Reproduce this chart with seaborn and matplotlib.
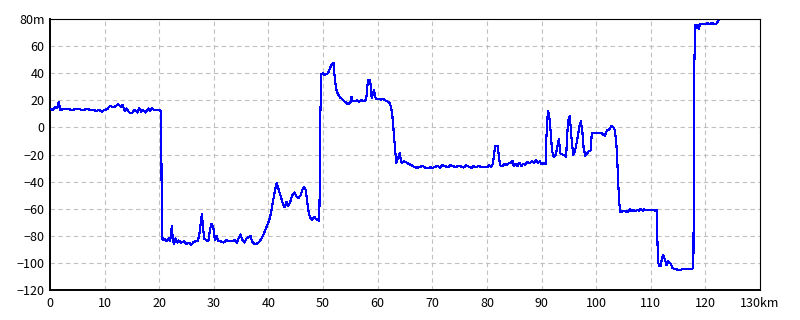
import matplotlib
matplotlib.use("Agg")
import matplotlib.pyplot as plt
import seaborn as sns
import pandas as pd
import numpy as np

# ---- data (distance km, elevation m) ----
km_a = [0, 0.5, 1.0, 1.3, 1.6, 1.9, 2.3, 3, 4, 5, 6, 7, 7.5, 8, 8.5, 9, 9.5, 10, 10.5, 11,
        11.5, 12, 12.5, 13, 13.3, 13.7, 14, 14.5, 15, 15.5, 16, 16.3, 16.7, 17, 17.5, 18,
        18.3, 18.7, 19, 19.5, 20, 20.3, 20.35, 20.45, 20.6]
m_a = [13.5, 13, 15, 14, 18.5, 12.5, 13.5, 13.5, 13, 13.5, 13, 13.5, 12.5, 13, 12, 13, 11.5,
       13, 13.5, 16, 15, 15.5, 17, 15, 16.5, 12, 14, 11, 10.5, 13, 11, 14, 11.5, 13, 11, 14,
       12, 14, 13, 12.5, 13, 12, 10, -55, -83]

km_b = [21.0, 21.4, 21.7, 22.0, 22.2, 22.3, 22.5, 22.7, 23.0, 23.3, 23.6, 24, 24.5, 25, 25.5,
        25.8, 26.2, 26.6, 27.0, 27.3, 27.6, 27.8, 28.0, 28.2, 28.6, 29.0, 29.3, 29.6, 29.9,
        30.2, 30.5, 30.8, 31.2, 31.8, 32.3, 32.8, 33.3, 33.8, 34.2, 34.6, 34.9, 35.2, 35.6,
        36.0, 36.4, 36.7, 37.0, 37.4, 37.8, 38.2, 38.6, 39.0, 39.3, 39.6, 40.0, 40.3, 40.6,
        40.9, 41.2, 41.5, 41.8, 42.1, 42.4, 42.7, 43.0, 43.3, 43.6, 43.9, 44.2, 44.5, 44.8,
        45.1, 45.5, 45.9, 46.2, 46.5, 46.8, 47.1, 47.4, 47.7, 48.0, 48.4, 48.8, 49.1, 49.3,
        49.4, 49.5, 49.7]
m_b = [-82.5, -84, -82, -84, -76, -73, -83, -86, -82, -85, -83.5, -85, -84, -86, -85, -87,
       -85, -84, -84, -80, -70, -64, -72, -82, -83, -84, -75, -71, -74, -83, -80, -84, -84,
       -85, -83, -84, -84, -83, -85, -81, -79, -83, -85, -82, -81, -80, -84, -86, -86, -85,
       -83, -80, -77, -74, -70, -66, -60, -53, -46, -41, -45, -49, -53, -57, -59, -55, -58,
       -56, -52, -49, -48, -51, -52, -50, -46, -44, -46, -55, -64, -67, -68, -66, -68, -68,
       -69, -40, 10, 39.5]

km_c = [50.0, 50.3, 50.6, 50.9, 51.2, 51.5, 51.9, 52.2, 52.5, 52.8, 53.1, 53.5, 53.8, 54.2,
        54.6, 55.0, 55.2, 55.4, 55.8, 56.2, 56.6, 57.0, 57.4, 57.8, 58.0, 58.2, 58.6, 58.8,
        58.9, 59.1, 59.3, 59.6, 59.8, 60.2, 60.6, 61.0, 61.4, 61.8, 62.2, 62.5, 62.7, 62.9,
        63.1, 63.3, 63.4, 63.7, 64.0, 64.2, 64.4, 64.8, 65.3, 65.7]
m_c = [40, 38.5, 39.5, 40, 43, 46, 47.5, 34, 26.5, 24, 22, 21, 19.5, 18.5, 17, 18.5, 22.5,
       19.5, 19.5, 20, 19, 20, 19.5, 20, 24, 35, 35, 28, 21.5, 24, 27.5, 22, 21, 21, 20.5,
       21, 20, 19, 18, 14, 8, -2, -13, -22, -26.5, -23, -19, -23, -26, -25, -26, -27]

km_d = [66.2, 66.8, 67.3, 67.8, 68.3, 68.7, 69.2, 69.6, 70.1, 70.6, 71.0, 71.4, 71.8, 72.3,
        72.8, 73.3, 73.8, 74.3, 74.8, 75.3, 75.8, 76.2, 76.7, 77.2, 77.6, 78.0, 78.5, 79.0,
        79.5, 80.0, 80.4, 80.8, 81.1, 81.3, 81.5, 82.0, 82.2, 82.4, 82.8, 83.2, 83.6, 84.0,
        84.4, 84.7, 84.9, 85.2, 85.6, 85.9, 86.3, 86.6, 87.0, 87.4, 87.8, 88.2, 88.6, 89.0,
        89.3, 89.7, 90.0, 90.4, 90.8]
m_d = [-28, -29.5, -29.7, -29, -28.5, -29.8, -30.2, -29.5, -29.8, -29, -28.5, -29.6, -28,
       -28.5, -29.5, -28, -28.6, -29.5, -28.2, -29, -29.6, -28, -29, -29.8, -28.5, -29.5,
       -28.2, -29.5, -29, -29.5, -28, -29, -27, -20, -14, -14, -22, -28, -28.5, -27, -27.5,
       -26.5, -26, -24.5, -28.5, -27, -28.8, -26, -28.5, -27, -27.5, -25.5, -26.5, -25, -26,
       -24, -26, -25, -27, -26.5, -27]

km_e = [90.9, 91.1, 91.2, 91.4, 91.7, 91.9, 92.2, 92.6, 93.0, 93.2, 93.4, 93.8, 94.3, 94.5,
        94.7, 94.9, 95.2, 95.4, 95.8, 96.1, 96.4, 96.7, 96.9, 97.2, 97.5, 97.7, 98.0, 98.3,
        98.6, 99.0, 99.2, 99.6, 100.1, 100.6, 101.0, 101.3, 101.6, 102.0, 102.4, 102.8,
        103.2, 103.4, 103.7, 103.9, 104.2, 104.4]
m_e = [-6.5, 8, 12, 9, -4.4, -16.7, -21.6, -20.4, -11.8, -8.8, -19, -20, -21, -22, -5, 5.5,
       8.4, -4.4, -20.4, -18, -12, -5, 0.5, 4.7, -4.4, -15, -21, -19.5, -17.8, -17, -4.4, -4,
       -4.4, -4, -4.2, -5.5, -6, -2, -1.5, 1, 0, -2, -11.8, -27.7, -54.8, -62.2]

km_f = [104.8, 105.2, 105.8, 106.2, 106.5, 106.9, 107.2, 107.6, 107.9, 108.2, 108.5, 108.8,
        109.2, 109.6, 110.0, 110.4, 110.8, 111.1, 111.3, 111.5, 111.9, 112.0, 112.3, 112.6,
        112.9, 113.2, 113.5, 113.7, 114.0, 114.5, 115.0, 115.5, 116.0, 116.5, 117.0, 117.4,
        117.7, 117.8, 117.9, 118.0, 118.2, 118.6, 118.8, 119.0, 119.5, 120.0, 120.4, 120.8,
        121.2, 121.6, 122.0, 122.4]
m_f = [-62, -62, -62.2, -60.6, -61.8, -61, -62, -60.8, -61.5, -60, -61.5, -60.5, -61.2, -61,
       -61.2, -61, -61.5, -61.2, -98, -102.3, -102.3, -96.6, -94.2, -98, -101.6, -98.6, -100,
       -101, -104, -104.5, -105.2, -105, -104.5, -104.8, -104.3, -104.6, -104, -104, -30, 52,
       75.6, 75.8, 72.4, 76.3, 76.5, 76, 77, 76.2, 77, 76.3, 76.5, 78.5]

x_ticks = [0, 10, 20, 30, 40, 50, 60, 70, 80, 90, 100, 110, 120, 130]
x_labels = ["0", "10", "20", "30", "40", "50", "60", "70", "80", "90", "100", "110", "120", "130km"]
y_ticks = [-120, -100, -80, -60, -40, -20, 0, 20, 40, 60, 80]
y_labels = ["\u2212120", "\u2212100", "\u221280", "\u221260", "\u221240", "\u221220", "0",
            "20", "40", "60", "80m"]

df = pd.DataFrame({
    "km": km_a + km_b + km_c + km_d + km_e + km_f,
    "m": m_a + m_b + m_c + m_d + m_e + m_f,
})

sns.set_style("white")
plt.rcParams["font.family"] = ["Noto Sans CJK JP", "DejaVu Sans"]

fig = plt.figure(figsize=(8, 3.2), dpi=100)
ax = fig.add_axes([50 / 800, 1 - 290 / 320, 710 / 800, 271 / 320])

sns.lineplot(data=df, x="km", y="m", ax=ax, color="#0000ff", linewidth=0.8,
             estimator=None, sort=False, antialiased=False, zorder=3)

ax.set_xlim(0, 130)
ax.set_ylim(-120, 80)
ax.set_xticks(x_ticks)
ax.set_xticklabels(x_labels)
ax.set_yticks(y_ticks)
ax.set_yticklabels(y_labels)
ax.tick_params(axis="both", length=0, labelsize=9, colors="black")
ax.tick_params(axis="x", pad=5)
ax.tick_params(axis="y", pad=4)
ax.set_xlabel("")
ax.set_ylabel("")

ax.grid(True, color="#c0c0c0", linestyle=(0, (4, 3)), linewidth=0.8)
ax.set_axisbelow(True)
for side in ["top", "right"]:
    ax.spines[side].set_color("black")
    ax.spines[side].set_linewidth(0.8)
for side in ["left", "bottom"]:
    ax.spines[side].set_color("black")
    ax.spines[side].set_linewidth(1.4)

fig.savefig("out.png", dpi=100, facecolor="white")
